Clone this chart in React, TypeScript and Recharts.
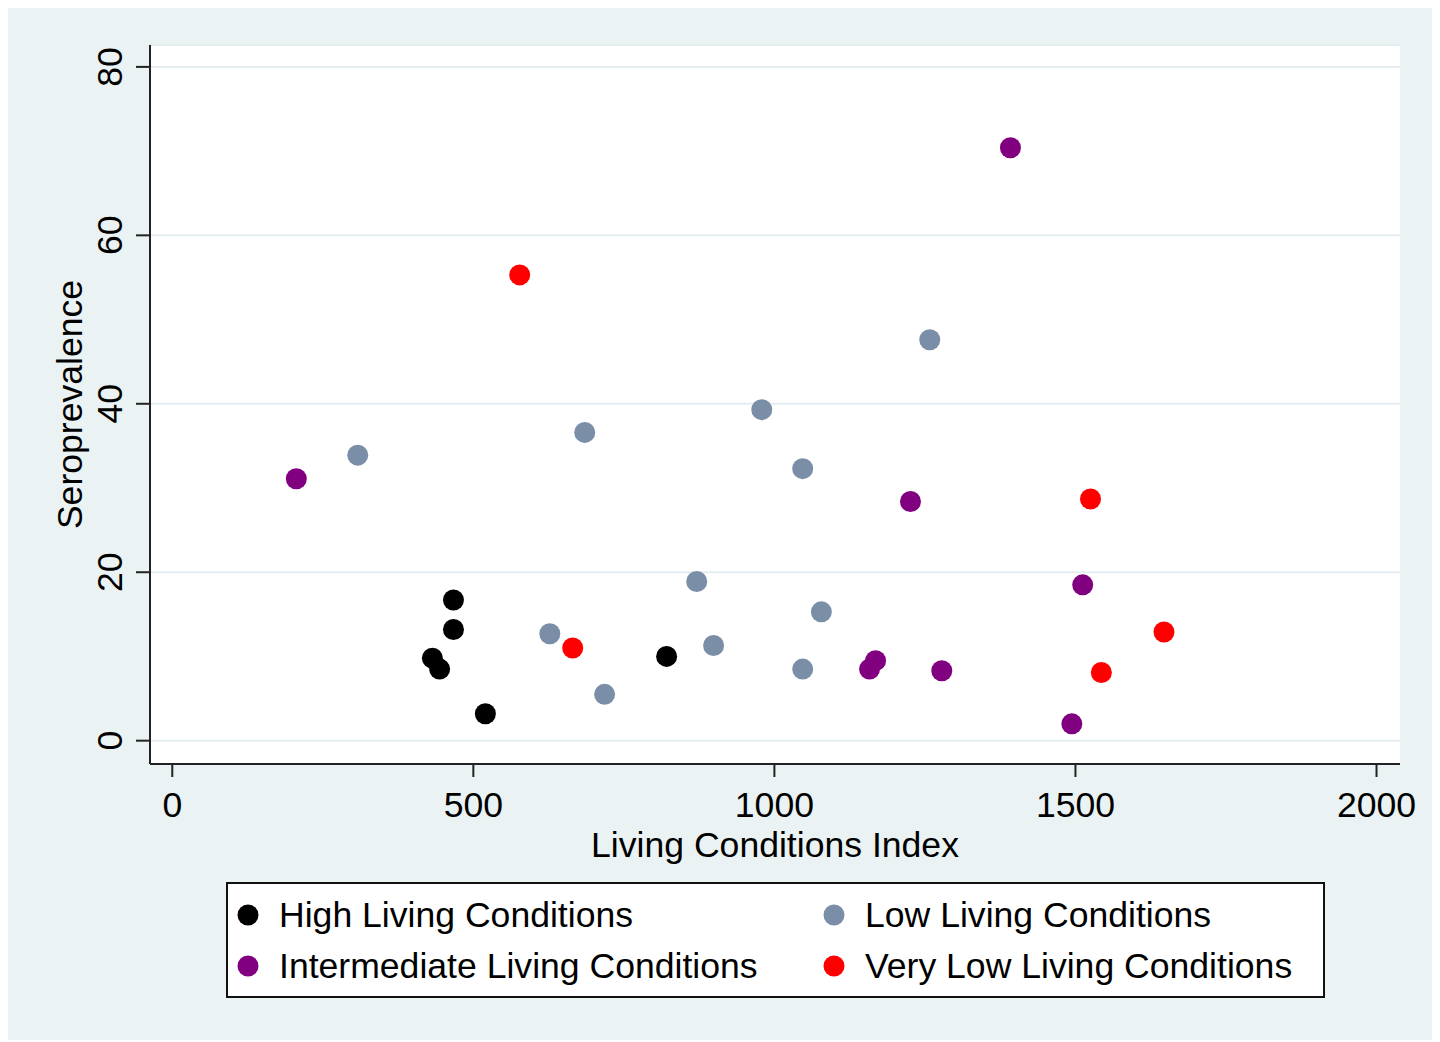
import { ScatterChart, Scatter, XAxis, YAxis, CartesianGrid, Legend } from "recharts";

// Living Conditions Index (x) vs seroprevalence % (y), one array per group
const highLiving = [
  { lci: 432, sero: 9.8 },
  { lci: 444, sero: 8.5 },
  { lci: 467, sero: 16.7 },
  { lci: 467, sero: 13.2 },
  { lci: 520, sero: 3.2 },
  { lci: 821, sero: 10.0 },
];

const intermediateLiving = [
  { lci: 206, sero: 31.1 },
  { lci: 1158, sero: 8.5 },
  { lci: 1168, sero: 9.5 },
  { lci: 1226, sero: 28.4 },
  { lci: 1278, sero: 8.3 },
  { lci: 1392, sero: 70.4 },
  { lci: 1494, sero: 2.0 },
  { lci: 1512, sero: 18.5 },
];

const lowLiving = [
  { lci: 308, sero: 33.9 },
  { lci: 627, sero: 12.7 },
  { lci: 685, sero: 36.6 },
  { lci: 718, sero: 5.5 },
  { lci: 871, sero: 18.9 },
  { lci: 899, sero: 11.3 },
  { lci: 979, sero: 39.3 },
  { lci: 1047, sero: 32.3 },
  { lci: 1047, sero: 8.5 },
  { lci: 1078, sero: 15.3 },
  { lci: 1258, sero: 47.6 },
];

const veryLowLiving = [
  { lci: 577, sero: 55.3 },
  { lci: 665, sero: 11.0 },
  { lci: 1525, sero: 28.7 },
  { lci: 1543, sero: 8.1 },
  { lci: 1647, sero: 12.9 },
];

const xTicks = [0, 500, 1000, 1500, 2000];
const yTicks = [0, 20, 40, 60, 80];

const FONT = '"Liberation Sans", Arial, sans-serif';
const FS = 35.6;
const BG = "#eaf2f3";
const GRAY = "#7b8ea7";
const PURPLE = "#800080";
const RED = "#ff0000";

// legend order, two columns like the Stata legend
const legendRows = [
  [
    { label: "High Living Conditions", color: "#000000" },
    { label: "Low Living Conditions", color: GRAY },
  ],
  [
    { label: "Intermediate Living Conditions", color: PURPLE },
    { label: "Very Low Living Conditions", color: RED },
  ],
];

const dot = (color: string) => (props: any) =>
  <circle cx={props.cx} cy={props.cy} r={10.5} fill={color} />;

const XTick = (props: any) => (
  <text x={props.x} y={809} textAnchor="middle" fontSize={FS} fontFamily={FONT} fill="#000">
    {props.payload.value}
  </text>
);

const YTick = (props: any) => (
  <text
    transform={`translate(114, ${props.y}) rotate(-90)`}
    textAnchor="middle"
    fontSize={FS}
    fontFamily={FONT}
    fill="#000"
  >
    {props.payload.value}
  </text>
);

const LegendBox = () => (
  <svg width={1099} height={116} style={{ display: "block" }}>
    <rect x={1} y={1} width={1097} height={114} fill="#fff" stroke="#111" strokeWidth={2} />
    {legendRows.map((row, ri) =>
      row.map((item, ci) => (
        <g key={item.label}>
          <circle cx={22 + ci * 586} cy={33 + ri * 51} r={10.5} fill={item.color} />
          <text x={53 + ci * 586} y={45 + ri * 51} fontSize={FS} fontFamily={FONT} fill="#000">
            {item.label}
          </text>
        </g>
      ))
    )}
  </svg>
);

export default function App() {
  return (
    <div style={{ width: 1424, height: 1032, background: BG, fontFamily: FONT }}>
      <ScatterChart width={1424} height={1032} margin={{ top: 37, right: 32, bottom: 216, left: 82 }}>
        <CartesianGrid vertical={false} fill="#ffffff" fillOpacity={1} stroke="#e4edf0" strokeWidth={2} />
        <XAxis
          type="number"
          dataKey="lci"
          domain={[-37, 2039]}
          ticks={xTicks}
          height={60}
          allowDataOverflow
          axisLine={{ stroke: "#222", strokeWidth: 2 }}
          tickLine={{ stroke: "#222", strokeWidth: 2 }}
          tickSize={13}
          tick={<XTick />}
          label={{
            content: () => (
              <text x={767} y={849} textAnchor="middle" fontSize={FS} fontFamily={FONT} fill="#000">
                Living Conditions Index
              </text>
            ),
          }}
        />
        <YAxis
          type="number"
          dataKey="sero"
          domain={[-2.77, 82.6]}
          ticks={yTicks}
          width={60}
          allowDataOverflow
          axisLine={{ stroke: "#222", strokeWidth: 2 }}
          tickLine={{ stroke: "#222", strokeWidth: 2 }}
          tickSize={14}
          tick={<YTick />}
          label={{
            content: () => (
              <text
                transform="translate(74, 396.5) rotate(-90)"
                textAnchor="middle"
                fontSize={FS}
                fontFamily={FONT}
                fill="#000"
              >
                Seroprevalence
              </text>
            ),
          }}
        />
        <Legend
          layout="horizontal"
          verticalAlign="middle"
          align="center"
          content={() => <LegendBox />}
          wrapperStyle={{ position: "absolute", left: 218, top: 874, width: 1099, height: 116, margin: 0 }}
        />
        <Scatter name="High Living Conditions" data={highLiving} fill="#000" shape={dot("#000")} isAnimationActive={false} />
        <Scatter name="Intermediate Living Conditions" data={intermediateLiving} fill={PURPLE} shape={dot(PURPLE)} isAnimationActive={false} />
        <Scatter name="Low Living Conditions" data={lowLiving} fill={GRAY} shape={dot(GRAY)} isAnimationActive={false} />
        <Scatter name="Very Low Living Conditions" data={veryLowLiving} fill={RED} shape={dot(RED)} isAnimationActive={false} />
      </ScatterChart>
    </div>
  );
}
